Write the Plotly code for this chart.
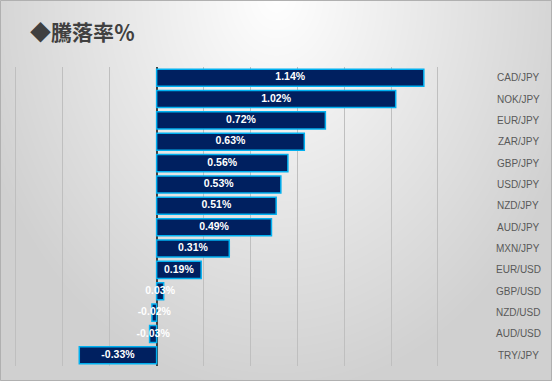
import base64, zlib, struct
import numpy as np
import plotly.graph_objects as go

categories = ["CAD/JPY", "NOK/JPY", "EUR/JPY", "ZAR/JPY", "GBP/JPY", "USD/JPY", "NZD/JPY",
              "AUD/JPY", "MXN/JPY", "EUR/USD", "GBP/USD", "NZD/USD", "AUD/USD", "TRY/JPY"]
values = [1.14, 1.02, 0.72, 0.63, 0.56, 0.53, 0.51, 0.49, 0.31, 0.19, 0.03, -0.02, -0.03, -0.33]
value_labels = ["%.2f%%" % v for v in values]
title_text = "◆騰落率％"

W, H = 552, 381
ML, MR, MT, MB = 14, 67, 67, 15
PW, PH = W - ML - MR, H - MT - MB

# radial gray background (style only)
yy, xx = np.mgrid[0:H, 0:W]
t = np.sqrt(((xx - 276) / 276.0) ** 2 + ((yy + 5) / 352.0) ** 2)
v = np.clip(255 - 41 * t, 208, 255).astype(np.uint8)
rgb = np.stack([v, v, v], axis=-1)
raw = b"".join(b"\x00" + rgb[r].tobytes() for r in range(H))
def chunk(tag, data):
    c = struct.pack(">I", len(data)) + tag + data
    return c + struct.pack(">I", zlib.crc32(tag + data) & 0xffffffff)
png = b"\x89PNG\r\n\x1a\n" + chunk(b"IHDR", struct.pack(">IIBBBBB", W, H, 8, 2, 0, 0, 0)) \
      + chunk(b"IDAT", zlib.compress(raw, 9)) + chunk(b"IEND", b"")
bg_uri = "data:image/png;base64," + base64.b64encode(png).decode()

fig = go.Figure()
fig.add_trace(go.Bar(
    y=categories, x=values, orientation="h",
    marker=dict(color="#002060", line=dict(color="#00b0f0", width=1.5)),
    hoverinfo="skip", showlegend=False,
))
fig.add_trace(go.Scatter(
    y=categories, x=[v / 2 for v in values], mode="text", text=value_labels,
    textposition="middle center",
    textfont=dict(family="Liberation Sans", size=10.5, color="white", weight="bold"),
    hoverinfo="skip", showlegend=False,
))

annotations = [dict(xref="paper", yref="y", x=(518 - ML) / PW, y=c, text=c, showarrow=False,
                    xanchor="center", font=dict(family="Liberation Sans", size=10, color="#595959"))
               for c in categories]
annotations.append(dict(xref="paper", yref="paper", x=(28 - ML) / PW, y=1 + (MT - 31) / PH,
                        text=title_text, showarrow=False, xanchor="left", yanchor="middle",
                        font=dict(family="Noto Sans CJK JP", size=21, color="#404040", weight="bold")))

fig.update_layout(
    width=W, height=H, margin=dict(l=ML, r=MR, t=MT, b=MB),
    paper_bgcolor="#e0e0e0", plot_bgcolor="rgba(0,0,0,0)",
    bargap=0.2,
    images=[dict(source=bg_uri, xref="paper", yref="paper", x=-ML / PW, y=1 + MT / PH,
                 sizex=W / PW, sizey=H / PH, sizing="stretch", xanchor="left", yanchor="top",
                 layer="below")],
    xaxis=dict(range=[-0.6085, 1.401], dtick=0.2, tick0=0, showticklabels=False,
               showgrid=True, gridcolor="#bfbfbf", gridwidth=1,
               zeroline=True, zerolinecolor="#404040", zerolinewidth=2, fixedrange=True),
    yaxis=dict(categoryorder="array", categoryarray=categories,
               range=[len(categories) - 0.5, -0.5],
               showticklabels=False, showgrid=False, zeroline=False, fixedrange=True),
    annotations=annotations,
    shapes=[dict(type="rect", xref="paper", yref="paper", x0=-ML / PW + 0.5 / PW,
                 x1=1 + (MR - 0.5) / PW, y0=-(MB - 0.5) / PH, y1=1 + (MT - 0.5) / PH,
                 line=dict(color="#b0b0b0", width=1), layer="below")],
)

fig.write_html("out.html", config={"displayModeBar": False},
               post_script="document.body.style.margin='0';document.body.style.overflow='hidden';")
